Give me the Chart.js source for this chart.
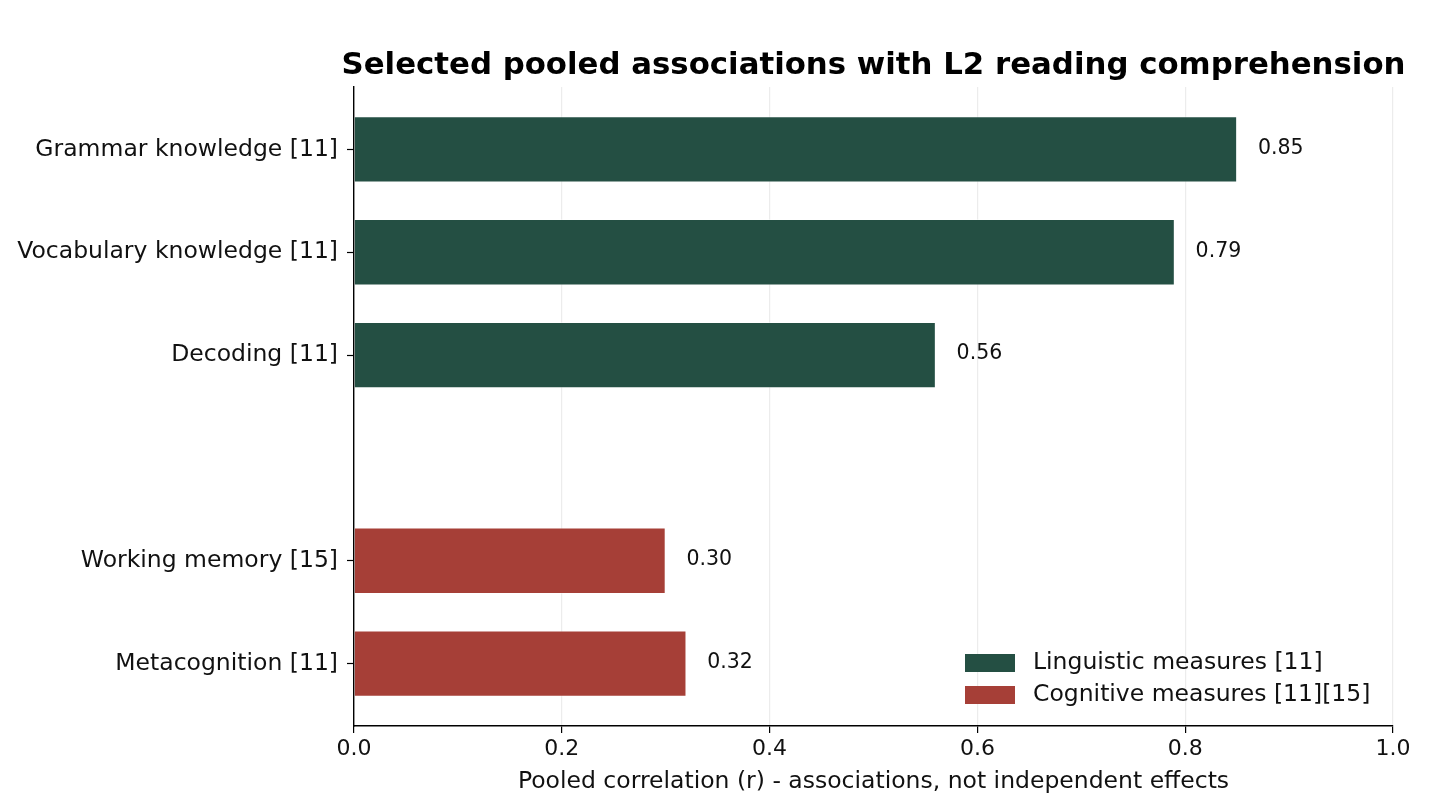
<!DOCTYPE html>
<html>
<head>
<meta charset="utf-8">
<script src="https://cdn.jsdelivr.net/npm/chart.js@4/dist/chart.umd.min.js"></script>
<style>
  html, body { margin: 0; padding: 0; background: #fff; }
  #wrap { width: 1449px; height: 801px; position: relative; }
</style>
</head>
<body>
<div id="wrap"><canvas id="my-chart"></canvas></div>
<script>
// categories (top to bottom) and their row slots; slot 3 is the empty gap
const linguisticLabels = ['Grammar knowledge [11]', 'Vocabulary knowledge [11]', 'Decoding [11]'];
const linguisticSlots = [0, 1, 2];
const linguisticValues = [0.85, 0.79, 0.56];

const cognitiveLabels = ['Working memory [15]', 'Metacognition [11]'];
const cognitiveSlots = [4, 5];
const cognitiveValues = [0.30, 0.32];

const xTicks = [0.0, 0.2, 0.4, 0.6, 0.8, 1.0];
const seriesNames = ['Linguistic measures [11]', 'Cognitive measures [11][15]'];

const chartTitle = 'Selected pooled associations with L2 reading comprehension';
const xTitle = 'Pooled correlation (r) - associations, not independent effects';

const GREEN = '#244f43';
const RED = '#a63f37';
const FONT = "'DejaVu Sans', sans-serif";

// slot -> label lookup for the y ticks
const slotLabel = {};
linguisticSlots.forEach((s, i) => slotLabel[s] = linguisticLabels[i]);
cognitiveSlots.forEach((s, i) => slotLabel[s] = cognitiveLabels[i]);
const allSlots = [...linguisticSlots, ...cognitiveSlots];

const toPoints = (vals, slots) => vals.map((v, i) => ({x: v, y: slots[i]}));

// title centred over the plot, value labels, and the legend inside the plot
const extras = {
  id: 'extras',
  afterDatasetsDraw(chart) {
    const ctx = chart.ctx;
    const xs = chart.scales.x, ys = chart.scales.y;
    ctx.save();
    ctx.fillStyle = '#111';
    ctx.font = '20.5px ' + FONT;
    ctx.textAlign = 'left';
    ctx.textBaseline = 'middle';
    chart.data.datasets.forEach(ds => {
      ds.data.forEach(p => {
        ctx.fillText(p.x.toFixed(2), xs.getPixelForValue(p.x + 0.02), ys.getPixelForValue(p.y) - 1);
      });
    });
    ctx.restore();
  },
  afterDraw(chart) {
    const ctx = chart.ctx;
    const area = chart.chartArea;
    ctx.save();
    ctx.fillStyle = '#000';
    ctx.font = 'bold 30.8px ' + FONT;
    ctx.textAlign = 'center';
    ctx.textBaseline = 'alphabetic';
    ctx.fillText(chartTitle, (area.left + area.right) / 2, 74);

    // legend
    const colors = [GREEN, RED];
    ctx.font = '23.5px ' + FONT;
    ctx.textAlign = 'left';
    ctx.textBaseline = 'middle';
    seriesNames.forEach((name, i) => {
      const y = 663 + i * 32;
      ctx.fillStyle = colors[i];
      ctx.fillRect(965, y - 9, 50, 18);
      ctx.fillStyle = '#111';
      ctx.fillText(name, 1033, y);
    });
    ctx.restore();
  }
};

const myChartRef = document.getElementById('my-chart').getContext('2d');

new Chart(myChartRef, {
  type: 'bar',
  data: {
    datasets: [
      {
        label: seriesNames[0],
        data: toPoints(linguisticValues, linguisticSlots),
        backgroundColor: GREEN,
        borderColor: 'rgba(255,255,255,0.4)',
        borderWidth: 1
      },
      {
        label: seriesNames[1],
        data: toPoints(cognitiveValues, cognitiveSlots),
        backgroundColor: RED,
        borderColor: 'rgba(255,255,255,0.4)',
        borderWidth: 1
      }
    ]
  },
  options: {
    indexAxis: 'y',
    responsive: true,
    maintainAspectRatio: false,
    animation: false,
    datasets: {
      bar: { grouped: false, barPercentage: 0.645, categoryPercentage: 1 }
    },
    layout: { padding: { top: 87, right: 56, left: 0, bottom: 0 } },
    plugins: {
      legend: { display: false },
      tooltip: { enabled: false },
      title: { display: false }
    },
    scales: {
      x: {
        type: 'linear',
        min: 0,
        max: 1,
        z: 1,
        afterFit: s => { s.height = 75; },
        afterBuildTicks: s => { s.ticks = xTicks.map(v => ({value: v})); },
        border: { display: true, color: '#000', width: 1.4 },
        grid: {
          color: 'rgba(128,128,128,0.15)',
          lineWidth: 1.2,
          tickColor: '#000',
          tickLength: 7,
          tickWidth: 1.2
        },
        ticks: {
          color: '#111',
          font: { family: FONT, size: 22 },
          padding: 3,
          callback: v => Number(v).toFixed(1)
        },
        title: {
          display: true,
          text: xTitle,
          color: '#111',
          font: { family: FONT, size: 23.5 },
          padding: { top: 0, bottom: 5 }
        }
      },
      y: {
        type: 'linear',
        reverse: true,
        offset: false,
        min: -0.6075,
        max: 5.6075,
        afterFit: s => { s.width = 354; },
        afterBuildTicks: s => { s.ticks = allSlots.map(v => ({value: v})); },
        border: { display: true, color: '#000', width: 1.4 },
        grid: {
          offset: false,
          drawOnChartArea: false,
          color: '#000',
          tickColor: '#000',
          tickLength: 7,
          tickWidth: 1.2
        },
        ticks: {
          color: '#111',
          font: { family: FONT, size: 23.5 },
          padding: 9,
          autoSkip: false,
          callback: v => slotLabel[v] || ''
        }
      }
    }
  },
  plugins: [extras]
});
</script>
</body>
</html>
